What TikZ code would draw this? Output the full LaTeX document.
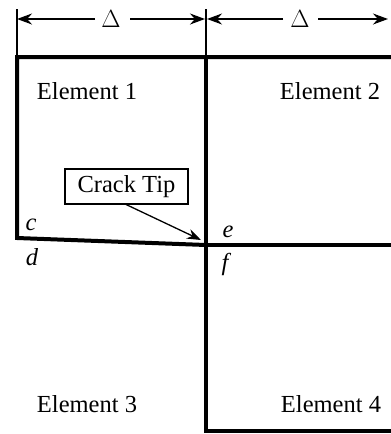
\documentclass[tikz,border=0pt]{standalone}
\usepackage{fontspec}
\setmainfont{Liberation Serif}
\usetikzlibrary{arrows.meta}
\begin{document}
\begin{tikzpicture}[x=1pt,y=-1pt,
  thickline/.style={line width=4pt},
  dimline/.style={line width=1.3pt},
  dimarrow/.style={line width=1.3pt,-{Stealth[length=15pt,width=11pt]}},
  lbl/.style={font=\fontsize{24.5}{29}\selectfont,inner sep=0pt},
  ilbl/.style={font=\fontsize{24.5}{29}\selectfont\itshape,inner sep=0pt}]
\useasboundingbox (0,0) rectangle (391,434);
% corner coordinates
\coordinate (tl) at (17,57);
\coordinate (tm) at (206,57);
\coordinate (tr) at (393,57);
\coordinate (c0) at (17,238);
\coordinate (tip) at (206,245);
\coordinate (mr) at (393,245);
\coordinate (bm) at (206,431);
\coordinate (br) at (393,431);
% thick element boundaries
\draw[thickline,line join=miter] (tr) -- (tl) -- (c0) -- (tip);
\draw[thickline] (tm) -- (bm) -- (br);
\draw[thickline] (tip) -- (mr);
% dimension ticks
\coordinate (k1t) at (17,9);
\coordinate (k2t) at (206,9);
\draw[dimline] (k1t) -- (tl);
\draw[dimline] (k2t) -- (tm);
% delta labels
\node[lbl] (d1) at (111,19) {$\Delta$};
\node[lbl] (d2) at (300,19) {$\Delta$};
\coordinate (a1l) at (17,19);
\coordinate (a1r) at (205,19);
\coordinate (a2l) at (207,19);
\coordinate (a2r) at (388,19);
\draw[dimarrow] (95,19) -- (a1l);
\draw[dimarrow] (130,19) -- (a1r);
\draw[dimarrow] (283,19) -- (a2l);
\draw[dimarrow] (318,19) -- (a2r);
% element labels
\node[lbl] (e1) at (87,91) {Element 1};
\node[lbl] (e2) at (330,91) {Element 2};
\node[lbl] (e3) at (87,404) {Element 3};
\node[lbl] (e4) at (331,404) {Element 4};
% point labels
\node[ilbl,anchor=base] (pc) at (31,230) {c};
\node[ilbl,anchor=base] (pd) at (32,265) {d};
\node[ilbl,anchor=base] (pe) at (228,237) {e};
\node[ilbl,anchor=base] (pf) at (225,270) {f};
% crack tip box
\node[lbl,draw,line width=1.3pt,minimum width=123pt,minimum height=35pt] (ct) at (126.5,186.5) {Crack Tip};
\coordinate (ctend) at (201,240);
\draw[line width=1.3pt,-{Stealth[length=14pt,width=10pt]}] (125,204) -- (ctend);
\end{tikzpicture}
\end{document}
